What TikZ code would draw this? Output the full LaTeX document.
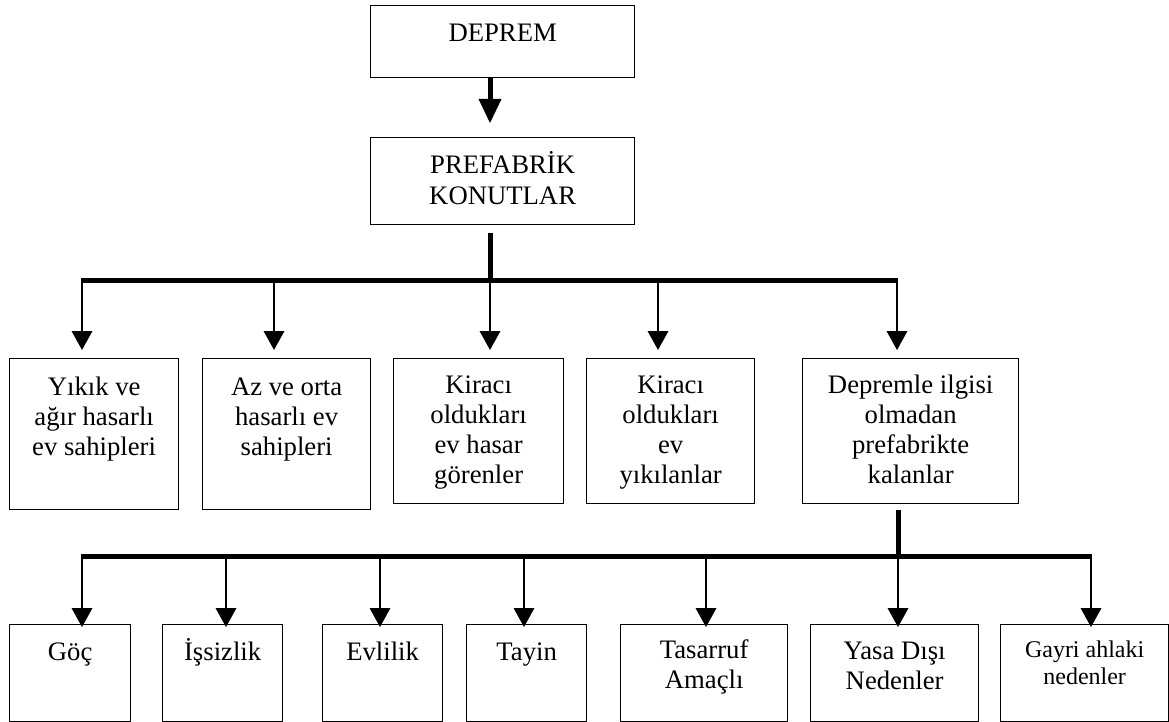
\documentclass[tikz,border=0pt]{standalone}
\usepackage{fontspec}
\setmainfont{Liberation Serif}
\usetikzlibrary{arrows.meta,calc}
\newcommand{\bxt}[4][35.5]{\parbox[c][#3pt][t]{#2pt}{\centering\rule{0pt}{#1pt}#4\par}}
\tikzset{
  box/.style={draw, line width=1.3pt, inner sep=0pt, anchor=north west, font=\fontsize{26.7}{30}\selectfont},
  bus/.style={line width=5pt},
  arr/.style={line width=1.5pt, -{Triangle[width=21pt,length=19pt,line width=0pt]}},
  bigarr/.style={line width=5pt, -{Triangle[width=23pt,length=24pt,line width=0pt]}}
}
\begin{document}
\begin{tikzpicture}[x=1pt,y=-1pt]
\useasboundingbox (0,0) rectangle (1169,722);
% top
\node[box] (dep) at (370,5) {\bxt[36]{264}{72}{DEPREM}};
\node[box, font=\fontsize{26.7}{31}\selectfont] (pref) at (370,137) {\bxt[36]{264}{87}{PREFABRİK\\KONUTLAR}};
\coordinate (cx) at (490,0);
\draw[bigarr] (dep.south -| cx) -- ($(pref.north -| cx)+(0,-14)$);
% row 2
\node[box] (k1) at (9,358)   {\bxt[37]{169}{151}{Yıkık ve\\ağır hasarlı\\ev sahipleri}};
\node[box] (k2) at (202,358) {\bxt[37]{168}{151}{Az ve orta\\hasarlı ev\\sahipleri}};
\node[box] (k3) at (393,358) {\bxt[35]{170}{145}{Kiracı\\oldukları\\ev hasar\\görenler}};
\node[box] (k4) at (586,358) {\bxt[35]{168}{145}{Kiracı\\oldukları\\ev\\yıkılanlar}};
\node[box] (k5) at (802,358) {\bxt[35]{216}{145}{Depremle ilgisi\\olmadan\\prefabrikte\\kalanlar}};
\coordinate (j1) at (82,280);
\coordinate (j2) at (274,280);
\coordinate (j3) at (490,280);
\coordinate (j4) at (658,280);
\coordinate (j5) at (897,280);
\draw[bus] ($(pref.south -| cx)+(0,8)$) -- (j3);
\draw[bus] ($(j1)+(-0.75,0)$) -- ($(j5)+(0.75,0)$);
\foreach \i in {1,...,5}{
  \draw[arr] (j\i) -- ($(k\i.north -| j\i)+(0,-8)$);
}
% row 3
\node[box] (m1) at (9,624)    {\bxt[36]{121}{97}{Göç}};
\node[box] (m2) at (162,624)  {\bxt[36]{120}{97}{İşsizlik}};
\node[box] (m3) at (322,624)  {\bxt[36]{120}{97}{Evlilik}};
\node[box] (m4) at (466,624)  {\bxt[36]{120}{97}{Tayin}};
\node[box] (m5) at (620,624)  {\bxt[34]{167}{97}{Tasarruf\\Amaçlı}};
\node[box] (m6) at (810,624)  {\bxt[35]{168}{97}{Yasa Dışı\\Nedenler}};
\node[box, font=\fontsize{24}{27}\selectfont] (m7) at (1000,624) {\bxt[33]{168}{97}{Gayri ahlaki\\nedenler}};
\coordinate (i1) at (82,556);
\coordinate (i2) at (226,556);
\coordinate (i3) at (380,556);
\coordinate (i4) at (524,556);
\coordinate (i5) at (706,556);
\coordinate (i6) at (898,556);
\coordinate (i7) at (1091,556);
\draw[bus] ($(k5.south -| i6)+(0,6)$) -- (i6);
\draw[bus] ($(i1)+(-0.75,0)$) -- ($(i7)+(0.75,0)$);
\foreach \i in {1,...,7}{
  \draw[arr] (i\i) -- ($(m\i.north -| i\i)+(0,3)$);
}
\end{tikzpicture}
\end{document}
